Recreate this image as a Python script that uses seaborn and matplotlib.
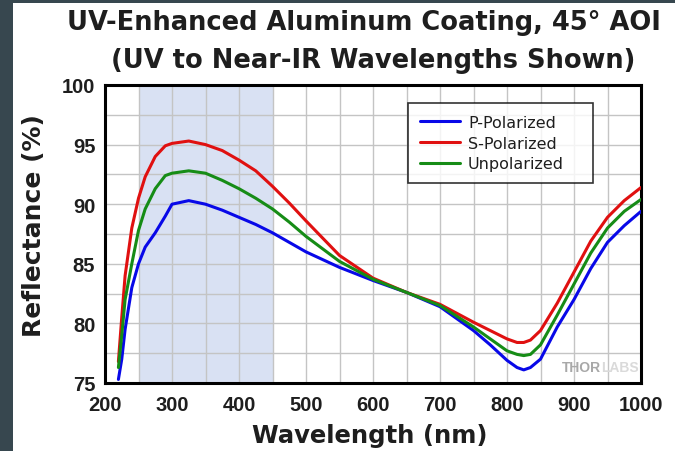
import matplotlib
matplotlib.use("Agg")
import matplotlib.pyplot as plt
from matplotlib.patches import Rectangle
from matplotlib.ticker import MultipleLocator
import seaborn as sns
import pandas as pd

wavelength = [220, 225, 230, 240, 250, 260, 275, 290, 300, 325, 350, 375, 400, 425,
              450, 475, 500, 550, 600, 650, 700, 750, 775, 800, 815, 825, 835, 850,
              875, 900, 925, 950, 975, 1000]
p_pol = [75.3, 77.0, 79.5, 83.0, 85.0, 86.4, 87.6, 89.0, 90.0, 90.3, 90.0, 89.5, 88.9, 88.3,
         87.6, 86.8, 86.0, 84.7, 83.6, 82.6, 81.4, 79.4, 78.2, 76.9, 76.3, 76.1, 76.3, 77.0,
         79.7, 82.0, 84.6, 86.8, 88.2, 89.4]
s_pol = [76.8, 80.5, 84.0, 88.0, 90.5, 92.3, 94.0, 94.9, 95.1, 95.3, 95.0, 94.5, 93.7, 92.8,
         91.5, 90.1, 88.6, 85.7, 83.8, 82.6, 81.6, 80.1, 79.4, 78.7, 78.4, 78.4, 78.6, 79.4,
         81.7, 84.3, 86.9, 88.9, 90.3, 91.4]
unpol = [76.3, 79.0, 82.0, 85.0, 87.8, 89.6, 91.3, 92.4, 92.6, 92.8, 92.6, 92.0, 91.3, 90.5,
         89.6, 88.5, 87.3, 85.2, 83.7, 82.6, 81.5, 79.7, 78.7, 77.7, 77.4, 77.3, 77.4, 78.2,
         80.7, 83.3, 85.9, 88.0, 89.4, 90.4]
series_names = ["P-Polarized", "S-Polarized", "Unpolarized"]
x_ticks = [200, 300, 400, 500, 600, 700, 800, 900, 1000]
y_ticks = [75, 80, 85, 90, 95, 100]
band = (250, 450)

df = pd.concat([
    pd.DataFrame({"Wavelength": wavelength, "Reflectance": vals, "Series": name})
    for name, vals in zip(series_names, [p_pol, s_pol, unpol])
], ignore_index=True)

sns.set_style("white")
plt.rcParams["font.family"] = ["Liberation Sans", "DejaVu Sans"]
WIDE = ["DejaVu Sans"]
TXT = "#1e1e1e"

fig = plt.figure(figsize=(6.75, 4.52), dpi=100)
fig.patch.set_facecolor("#37474f")
fig.patches.append(Rectangle((13 / 675, 0), 1, 1 - 4 / 452, transform=fig.transFigure,
                             facecolor="white", edgecolor="none", zorder=-10))

ax = fig.add_axes([105 / 675, 1 - 384 / 452, (641 - 105) / 675, (384 - 86) / 452])
ax.set_axisbelow(True)
ax.axvspan(band[0], band[1], color="#d9e1f3", zorder=0, lw=0)

palette = {"P-Polarized": "#0808e8", "S-Polarized": "#e01010", "Unpolarized": "#168c16"}
sns.lineplot(data=df, x="Wavelength", y="Reflectance", hue="Series", palette=palette,
             linewidth=2.2, ax=ax, zorder=3)

ax.set_xlim(200, 1000)
ax.set_ylim(75, 100)
ax.set_xticks(x_ticks)
ax.set_yticks(y_ticks)
ax.xaxis.set_minor_locator(MultipleLocator(50))
ax.yaxis.set_minor_locator(MultipleLocator(2.5))
ax.grid(True, which="both", color="#c4c4c4", linewidth=1.0, zorder=0.5)
ax.tick_params(axis="both", which="major", direction="out", length=5, width=2,
               labelsize=14.5, color="black", pad=2)
ax.tick_params(axis="x", which="major", pad=4)
ax.tick_params(axis="both", which="minor", direction="out", length=3, width=1.5, color="black")
for lab in ax.get_xticklabels() + ax.get_yticklabels():
    lab.set_fontweight("bold")
    lab.set_color(TXT)
for s in ax.spines.values():
    s.set_visible(True)
    s.set_color("black")
    s.set_linewidth(2.2)

ax.set_xlabel("Wavelength (nm)", fontsize=17.5, fontweight="bold", color=TXT, family=WIDE)
ax.set_ylabel("Reflectance (%)", fontsize=18, fontweight="bold", color=TXT, family=WIDE)
ax.xaxis.set_label_coords((370 - 105) / 536, -(424 - 384) / 298)
ax.yaxis.set_label_coords(-(105 - 46) / 536, (384 - 226) / 298)

fig.text(364 / 675, 1 - 23 / 452, "UV-Enhanced Aluminum Coating, 45° AOI", ha="center",
         va="center", fontsize=18.5, fontweight="bold", color=TXT, family=WIDE)
fig.text(373 / 675, 1 - 61 / 452, "(UV to Near-IR Wavelengths Shown)", ha="center",
         va="center", fontsize=18.5, fontweight="bold", color=TXT, family=WIDE)

leg = ax.legend(loc="upper left",
                bbox_to_anchor=((408 - 105) / 536, (384 - 188) / 298,
                                (593 - 408) / 536, (188 - 104) / 298),
                mode="expand", prop={"family": WIDE, "size": 11.5}, frameon=True,
                fancybox=False, edgecolor="black", handlelength=2.5, handletextpad=0.5,
                borderpad=0.75, labelspacing=0.35, borderaxespad=0, title=None)
leg.get_frame().set_linewidth(1.2)
for line in leg.get_lines():
    line.set_linewidth(2.2)
for t in leg.get_texts():
    t.set_color(TXT)

ax.text(0.925, 0.054, "THOR", transform=ax.transAxes, ha="right", va="center",
        fontsize=10, fontweight="bold", color="#a8a8a8")
ax.text(0.925, 0.054, "LABS", transform=ax.transAxes, ha="left", va="center",
        fontsize=10, fontweight="bold", color="#dadada")

fig.savefig("out.png", dpi=100, facecolor=fig.get_facecolor())
